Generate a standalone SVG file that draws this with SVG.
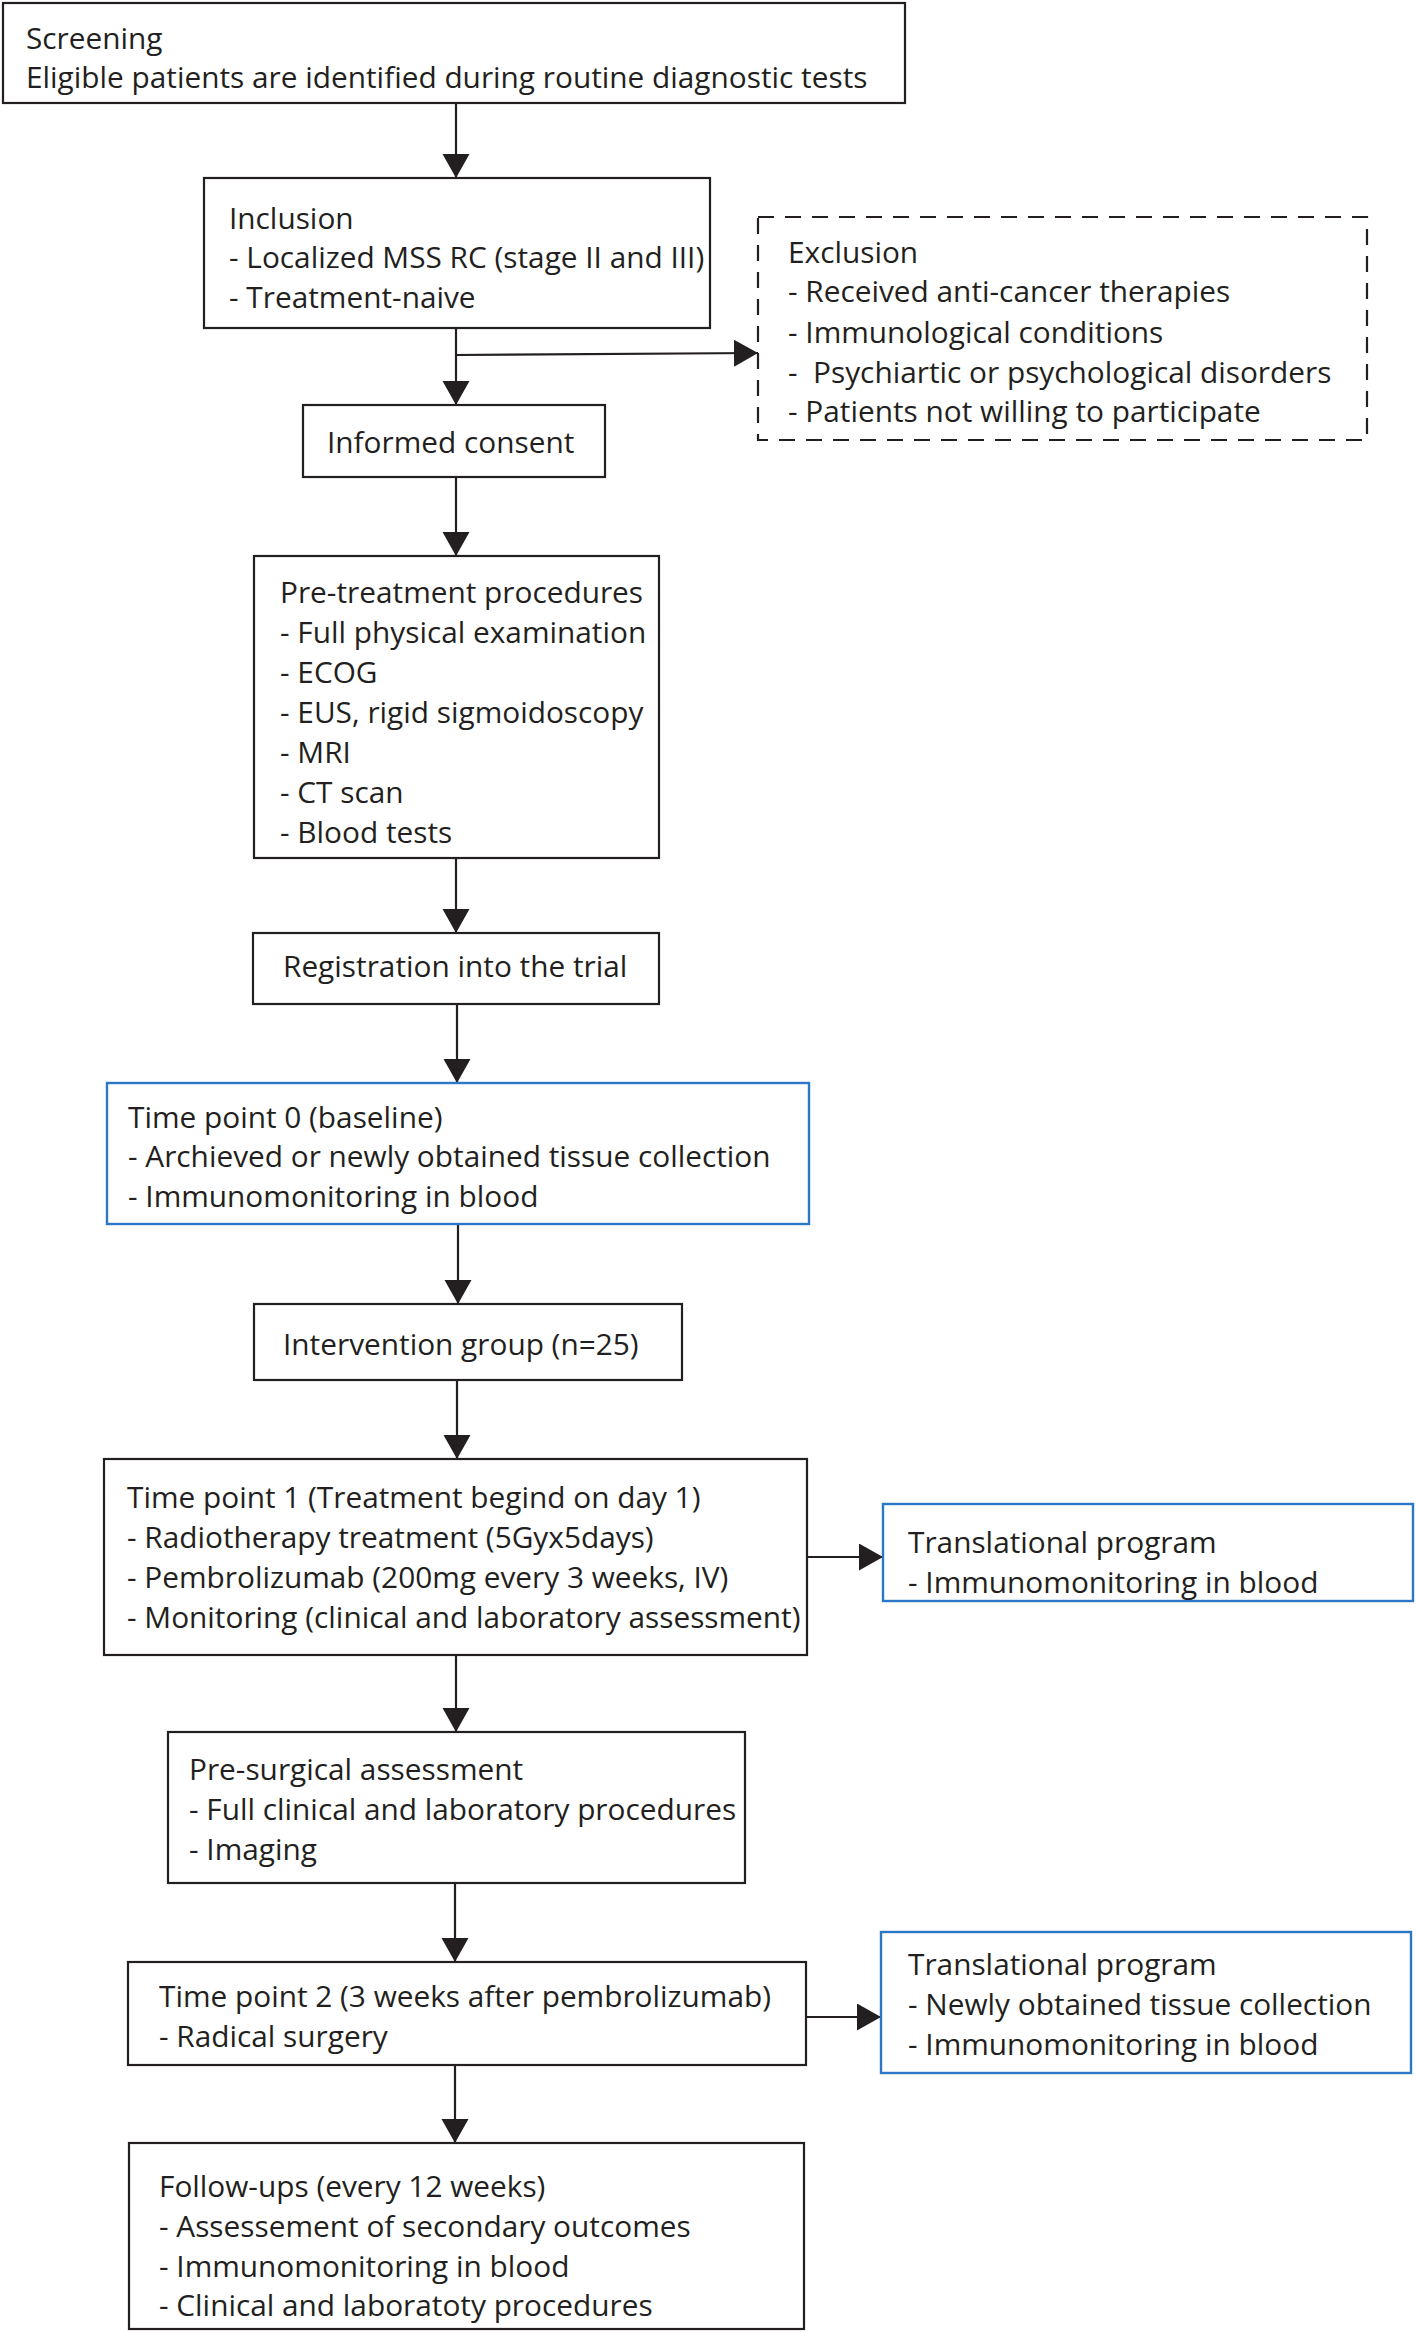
<svg xmlns="http://www.w3.org/2000/svg" width="1416" height="2332" viewBox="0 0 1416 2332">
<style>
  .box{fill:#fff;stroke:#231f20;stroke-width:2.2}
  .blue{fill:#fff;stroke:#2a78c6;stroke-width:2.4}
  .dash{fill:#fff;stroke:#231f20;stroke-width:2.2;stroke-dasharray:16 11}
  text{font-family:"Open Sans","Noto Sans",sans-serif;font-size:29.8px;fill:#231f20;white-space:pre}
  .conn line{stroke:#231f20;stroke-width:2.2;fill:none}
</style>
<defs>
  <marker id="ah" markerUnits="userSpaceOnUse" markerWidth="26" markerHeight="28" refX="24" refY="13.5" orient="auto">
    <path d="M0,0 L24,13.5 L0,27 Z" fill="#231f20"/>
  </marker>
</defs>
<rect width="1416" height="2332" fill="#fff"/>

<g id="connectors" class="conn">
  <line x1="456" y1="103" x2="456" y2="178" marker-end="url(#ah)"/>
  <line x1="456" y1="328" x2="456" y2="405" marker-end="url(#ah)"/>
  <line x1="456" y1="355" x2="758" y2="353" marker-end="url(#ah)"/>
  <line x1="456" y1="477" x2="456" y2="556" marker-end="url(#ah)"/>
  <line x1="456" y1="858" x2="456" y2="933" marker-end="url(#ah)"/>
  <line x1="457" y1="1004" x2="457" y2="1083" marker-end="url(#ah)"/>
  <line x1="458" y1="1224" x2="458" y2="1304" marker-end="url(#ah)"/>
  <line x1="457" y1="1380" x2="457" y2="1459" marker-end="url(#ah)"/>
  <line x1="807" y1="1557" x2="883" y2="1557" marker-end="url(#ah)"/>
  <line x1="456" y1="1655" x2="456" y2="1732" marker-end="url(#ah)"/>
  <line x1="455" y1="1883" x2="455" y2="1962" marker-end="url(#ah)"/>
  <line x1="806" y1="2017" x2="881" y2="2017" marker-end="url(#ah)"/>
  <line x1="455" y1="2065" x2="455" y2="2143" marker-end="url(#ah)"/>
</g>

<g id="screening">
  <rect class="box" x="3" y="3" width="902" height="100"/>
  <text x="26" y="49">Screening</text>
  <text x="26" y="88">Eligible patients are identified during routine diagnostic tests</text>
</g>

<g id="inclusion">
  <rect class="box" x="204" y="178" width="506" height="150"/>
  <text x="229" y="229">Inclusion</text>
  <text x="229" y="268">- Localized MSS RC (stage II and III)</text>
  <text x="229" y="308">- Treatment-naive</text>
</g>

<g id="exclusion">
  <rect class="dash" x="758" y="217" width="609" height="223"/>
  <text x="788" y="263">Exclusion</text>
  <text x="788" y="302">- Received anti-cancer therapies</text>
  <text x="788" y="343">- Immunological conditions</text>
  <text x="788" y="383">-  Psychiartic or psychological disorders</text>
  <text x="788" y="422">- Patients not willing to participate</text>
</g>

<g id="consent">
  <rect class="box" x="303" y="405" width="302" height="72"/>
  <text x="327" y="453">Informed consent</text>
</g>

<g id="pretreatment">
  <rect class="box" x="254" y="556" width="405" height="302"/>
  <text x="280" y="603">Pre-treatment procedures</text>
  <text x="280" y="643">- Full physical examination</text>
  <text x="280" y="683">- ECOG</text>
  <text x="280" y="723">- EUS, rigid sigmoidoscopy</text>
  <text x="280" y="763">- MRI</text>
  <text x="280" y="803">- CT scan</text>
  <text x="280" y="843">- Blood tests</text>
</g>

<g id="registration">
  <rect class="box" x="253" y="933" width="406" height="71"/>
  <text x="283" y="977">Registration into the trial</text>
</g>

<g id="timepoint0">
  <rect class="blue" x="107" y="1083" width="702" height="141"/>
  <text x="128" y="1128">Time point 0 (baseline)</text>
  <text x="128" y="1167">- Archieved or newly obtained tissue collection</text>
  <text x="128" y="1207">- Immunomonitoring in blood</text>
</g>

<g id="intervention">
  <rect class="box" x="254" y="1304" width="428" height="76"/>
  <text x="283" y="1355">Intervention group (n=25)</text>
</g>

<g id="timepoint1">
  <rect class="box" x="104" y="1459" width="703" height="196"/>
  <text x="127" y="1508">Time point 1 (Treatment begind on day 1)</text>
  <text x="127" y="1548">- Radiotherapy treatment (5Gyx5days)</text>
  <text x="127" y="1588">- Pembrolizumab (200mg every 3 weeks, IV)</text>
  <text x="127" y="1628">- Monitoring (clinical and laboratory assessment)</text>
</g>

<g id="translational1">
  <rect class="blue" x="883" y="1504" width="530" height="97"/>
  <text x="908" y="1553">Translational program</text>
  <text x="908" y="1593">- Immunomonitoring in blood</text>
</g>

<g id="presurgical">
  <rect class="box" x="168" y="1732" width="577" height="151"/>
  <text x="189" y="1780">Pre-surgical assessment</text>
  <text x="189" y="1820">- Full clinical and laboratory procedures</text>
  <text x="189" y="1860">- Imaging</text>
</g>

<g id="timepoint2">
  <rect class="box" x="128" y="1962" width="678" height="103"/>
  <text x="159" y="2007">Time point 2 (3 weeks after pembrolizumab)</text>
  <text x="159" y="2047">- Radical surgery</text>
</g>

<g id="translational2">
  <rect class="blue" x="881" y="1932" width="530" height="141"/>
  <text x="908" y="1975">Translational program</text>
  <text x="908" y="2015">- Newly obtained tissue collection</text>
  <text x="908" y="2055">- Immunomonitoring in blood</text>
</g>

<g id="followups">
  <rect class="box" x="129" y="2143" width="675" height="186"/>
  <text x="159" y="2197">Follow-ups (every 12 weeks)</text>
  <text x="159" y="2237">- Assessement of secondary outcomes</text>
  <text x="159" y="2277">- Immunomonitoring in blood</text>
  <text x="159" y="2316">- Clinical and laboratoty procedures</text>
</g>
</svg>
